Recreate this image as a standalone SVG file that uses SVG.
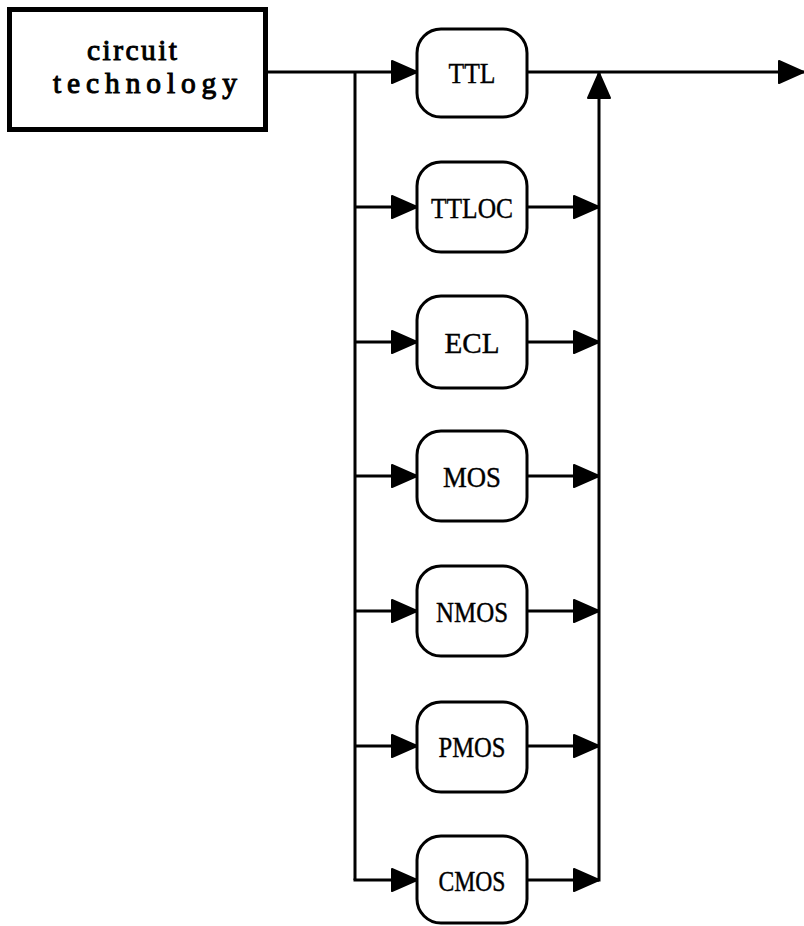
<svg xmlns="http://www.w3.org/2000/svg" width="804" height="926" viewBox="0 0 804 926">
<style>
.bg{fill:#ffffff}
.box{fill:#ffffff;stroke:#000;stroke-width:5}
.node{fill:#ffffff;stroke:#000;stroke-width:3}
.line{fill:none;stroke:#000;stroke-width:3}
.lbl{font-family:"Liberation Serif","Times New Roman",serif;font-size:30px;fill:#000;text-anchor:middle;stroke:#000;stroke-width:0.4}
.title{font-family:"Liberation Serif","Times New Roman",serif;font-size:29.5px;fill:#000;text-anchor:middle;stroke:#000;stroke-width:1}
</style>
<defs>
<marker id="arr" markerUnits="userSpaceOnUse" markerWidth="30" markerHeight="28" refX="26" refY="12" orient="auto" viewBox="0 0 30 28">
<path d="M1,1 L26,12 L1,23 Z" fill="#000" stroke="#000" stroke-width="2" stroke-linejoin="round"/>
</marker>
</defs>
<rect class="bg" x="0" y="0" width="804" height="926"/>
<g id="connectors">
<path class="line" d="M268,72 H417" marker-end="url(#arr)"/>
<path class="line" d="M355,72 V880"/>
<path class="line" d="M355,207 H417" marker-end="url(#arr)"/>
<path class="line" d="M355,342 H417" marker-end="url(#arr)"/>
<path class="line" d="M355,476 H417" marker-end="url(#arr)"/>
<path class="line" d="M355,611 H417" marker-end="url(#arr)"/>
<path class="line" d="M355,746 H417" marker-end="url(#arr)"/>
<path class="line" d="M353.5,880 H417" marker-end="url(#arr)"/>
<path class="line" d="M527,207 H599" marker-end="url(#arr)"/>
<path class="line" d="M527,342 H599" marker-end="url(#arr)"/>
<path class="line" d="M527,476 H599" marker-end="url(#arr)"/>
<path class="line" d="M527,611 H599" marker-end="url(#arr)"/>
<path class="line" d="M527,746 H599" marker-end="url(#arr)"/>
<path class="line" d="M527,880 H599" marker-end="url(#arr)"/>
<path class="line" d="M599,881.5 V73" marker-end="url(#arr)"/>
<path class="line" d="M527,72 H804" marker-end="url(#arr)"/>
</g>
<g id="circuit-technology">
<rect class="box" x="9.5" y="9.5" width="256" height="120"/>
<text class="title" x="132" y="60" textLength="90" lengthAdjust="spacing">circuit</text>
<text class="title" x="145" y="93" textLength="184" lengthAdjust="spacing">technology</text>
</g>
<g id="TTL">
<rect class="node" x="417" y="29" width="110" height="88" rx="24"/>
<text class="lbl" x="472" y="83" textLength="47" lengthAdjust="spacingAndGlyphs">TTL</text>
</g>
<g id="TTLOC">
<rect class="node" x="417" y="162" width="110" height="90" rx="24"/>
<text class="lbl" x="472" y="218" textLength="82" lengthAdjust="spacingAndGlyphs">TTLOC</text>
</g>
<g id="ECL">
<rect class="node" x="417" y="296" width="110" height="92" rx="24"/>
<text class="lbl" x="472" y="353" textLength="55" lengthAdjust="spacingAndGlyphs">ECL</text>
</g>
<g id="MOS">
<rect class="node" x="417" y="431" width="110" height="90" rx="24"/>
<text class="lbl" x="472" y="487" textLength="58" lengthAdjust="spacingAndGlyphs">MOS</text>
</g>
<g id="NMOS">
<rect class="node" x="417" y="566" width="110" height="90" rx="24"/>
<text class="lbl" x="472" y="622" textLength="72" lengthAdjust="spacingAndGlyphs">NMOS</text>
</g>
<g id="PMOS">
<rect class="node" x="417" y="702" width="110" height="90" rx="24"/>
<text class="lbl" x="472" y="757" textLength="67" lengthAdjust="spacingAndGlyphs">PMOS</text>
</g>
<g id="CMOS">
<rect class="node" x="417" y="836" width="110" height="87" rx="24"/>
<text class="lbl" x="472" y="891" textLength="67" lengthAdjust="spacingAndGlyphs">CMOS</text>
</g>
</svg>
